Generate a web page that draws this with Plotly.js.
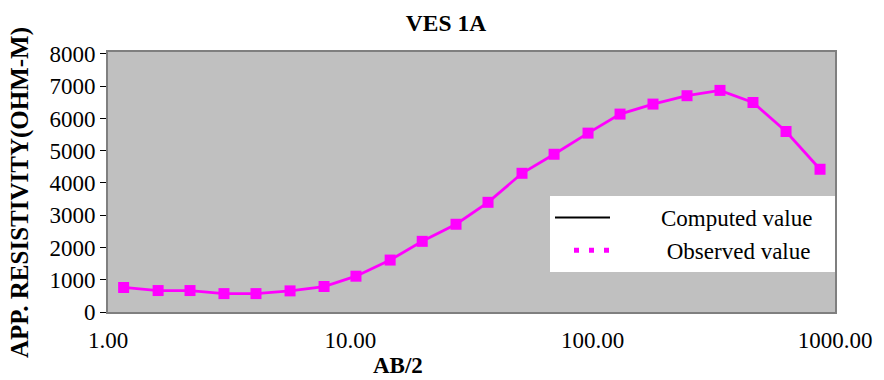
<!DOCTYPE html>
<html>
<head>
<meta charset="utf-8">
<script src="https://cdn.plot.ly/plotly-3.0.1.min.js"></script>
<style>html,body{margin:0;padding:0;background:#fff;}#chart{width:884px;height:380px;}</style>
</head>
<body>
<div id="chart"></div>
<script>
// AB/2 spacing (m)
const abHalf = [1.16, 1.61, 2.18, 3.01, 4.08, 5.64, 7.79, 10.55, 14.6, 19.8, 27.3, 37.0, 51.1, 69.3, 95.7, 129.7, 177.4, 245.1, 335.3, 458.7, 628.0, 867.4];
// Apparent resistivity (ohm-m), observed
const observed = [760, 665, 665, 570, 570, 655, 790, 1110, 1610, 2190, 2720, 3400, 4300, 4890, 5545, 6135, 6445, 6705, 6870, 6495, 5595, 4425];
const xTickVals = [1, 10, 100, 1000];
const xTickText = ["1.00", "10.00", "100.00", "1000.00"];
const yTickVals = [0, 1000, 2000, 3000, 4000, 5000, 6000, 7000, 8000];
const legendNames = ["Computed value", "Observed value"];

const serif = "'Liberation Serif', 'Times New Roman', serif";
const nb = n => '\u00a0'.repeat(n);

const traces = [
  {
    x: abHalf, y: observed, type: 'scatter', mode: 'lines+markers',
    line: {color: '#ff00ff', width: 2.8},
    marker: {symbol: 'square', size: 11, color: '#ff00ff'},
    showlegend: false, hoverinfo: 'x+y'
  },
  {
    x: [null], y: [null], type: 'scatter', mode: 'lines', name: nb(8) + legendNames[0] + nb(3),
    line: {color: '#000000', width: 2}
  },
  {
    x: [null], y: [null], type: 'scatter', mode: 'lines', name: nb(9) + legendNames[1] + nb(3),
    line: {color: '#ff00ff', width: 5, dash: '0px,19px,5px,10px,5px,10px,5px,60px'}
  }
];

const layout = {
  width: 884, height: 380,
  margin: {l: 108, r: 49, t: 52, b: 68},
  paper_bgcolor: '#ffffff',
  plot_bgcolor: '#c0c0c0',
  font: {family: serif, size: 23, color: '#000'},
  title: {text: '<b>VES 1A</b>', font: {family: serif, size: 23.5, color: '#000'},
          x: 446/884, xref: 'container', xanchor: 'center', y: 1 - 23/380, yref: 'container', yanchor: 'middle'},
  xaxis: {
    type: 'log', range: [0, 3],
    tickvals: xTickVals, ticktext: xTickText,
    ticks: '', showgrid: false, zeroline: false, ticklabelstandoff: 6,
    showline: true, linecolor: '#7f7f7f', linewidth: 2, mirror: true,
    tickfont: {family: serif, size: 23, color: '#000'}
  },
  yaxis: {
    range: [0, 8060],
    tickvals: yTickVals,
    ticks: 'outside', ticklen: 6, tickcolor: '#000', tickwidth: 1,
    showgrid: false, zeroline: false,
    showline: true, linecolor: '#7f7f7f', linewidth: 2, mirror: true,
    tickfont: {family: serif, size: 23, color: '#000'}
  },
  legend: {
    x: 1, xanchor: 'right', y: (312-196)/260, yanchor: 'top',
    bgcolor: '#ffffff', borderwidth: 0,
    font: {family: serif, size: 23, color: '#000'},
    itemwidth: 55
  },
  annotations: [
    {text: '<b>AB/2</b>', xref: 'paper', yref: 'paper', x: (398-108)/727, y: -53/260,
     xanchor: 'center', yanchor: 'middle', showarrow: false, font: {family: serif, size: 23, color: '#000'}},
    {text: '<b>APP. RESISTIVITY(OHM-M)</b>', xref: 'paper', yref: 'paper', x: -(108-20)/727, y: (312-193)/260,
     xanchor: 'center', yanchor: 'middle', textangle: -90, showarrow: false, font: {family: serif, size: 25, color: '#000'}}
  ]
};

Plotly.newPlot('chart', traces, layout, {displayModeBar: false, staticPlot: true});
</script>
</body>
</html>
